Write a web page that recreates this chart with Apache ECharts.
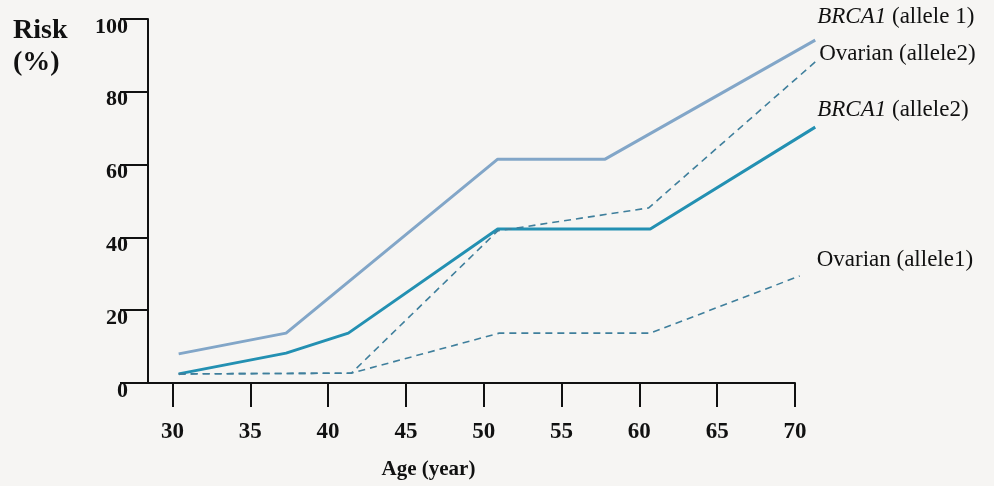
<!DOCTYPE html>
<html>
<head>
<meta charset="utf-8">
<script src="https://cdn.jsdelivr.net/npm/echarts@6/dist/echarts.min.js"></script>
<style>
html,body{margin:0;padding:0;background:#f6f5f3;}
#chart{width:994px;height:486px;}
</style>
</head>
<body>
<div id="chart"></div>
<script>
// ---- data ----
var xTicks = [30, 35, 40, 45, 50, 55, 60, 65, 70];
var yTicks = [0, 20, 40, 60, 80, 100];

var brca1A1Ages = [30.4, 37.3, 50.9, 57.8, 71.3];
var brca1A1Risk = [8.0, 13.7, 61.5, 61.5, 94.2];

var brca1A2Ages = [30.4, 37.3, 41.3, 50.9, 60.7, 71.3];
var brca1A2Risk = [2.5, 8.2, 13.7, 42.3, 42.3, 70.3];

var ovA2Ages = [30.4, 41.5, 50.9, 60.6, 71.3];
var ovA2Risk = [2.5, 2.7, 41.8, 48.1, 88.2];

var ovA1Ages = [30.4, 41.5, 51.0, 60.7, 70.3];
var ovA1Risk = [2.5, 2.7, 13.7, 13.7, 29.4];

function zip(a, b) { return a.map(function (v, i) { return [v, b[i]]; }); }

// ---- layout ----
var W = 994, GL = 148, GR = 199, GT = 19, GB = 103;
var X_MIN = 28.43, X_MAX = 70, X_MAX_DATA = 72;
var pxPerYear = (W - GL - GR) / (X_MAX - X_MIN);
var GR_DATA = W - GL - (X_MAX_DATA - X_MIN) * pxPerYear;

var serif = '"Liberation Serif", "Times New Roman", serif';
var chart = echarts.init(document.getElementById('chart'));

function endLbl(text, off, italicFirst) {
  return {
    show: true,
    formatter: italicFirst ? '{i|BRCA1} ' + text : text,
    distance: 2,
    offset: off,
    align: 'left',
    color: '#111',
    fontFamily: serif,
    fontSize: 23,
    rich: { i: { fontStyle: 'italic', fontFamily: serif, fontSize: 23, color: '#111' } }
  };
}

chart.setOption({
  animation: false,
  backgroundColor: '#f6f5f3',
  title: {
    text: 'Risk\n(%)',
    left: 8, top: 10,
    textStyle: { fontFamily: serif, fontWeight: 'bold', fontSize: 28, color: '#111', lineHeight: 32 }
  },
  grid: [
    { left: GL, right: GR, top: GT, bottom: GB, outerBoundsMode: 'none', containLabel: false },
    { left: GL, right: GR_DATA, top: GT, bottom: GB, outerBoundsMode: 'none', containLabel: false }
  ],
  xAxis: [{
    type: 'value', gridIndex: 0,
    min: X_MIN, max: X_MAX,
    name: 'Age (year)',
    nameLocation: 'middle',
    nameGap: 76,
    nameTextStyle: { fontFamily: serif, fontWeight: 'bold', fontSize: 21, color: '#111', padding: [0, 86, 0, 0] },
    axisLine: { lineStyle: { color: '#111', width: 2 } },
    axisTick: { customValues: xTicks, length: 24, lineStyle: { color: '#111', width: 2 } },
    axisLabel: { customValues: xTicks, margin: 38, fontFamily: serif, fontWeight: 'bold', fontSize: 23, color: '#111' },
    splitLine: { show: false }
  }, {
    type: 'value', gridIndex: 1, min: X_MIN, max: X_MAX_DATA, show: false
  }],
  yAxis: [{
    type: 'value', gridIndex: 0,
    min: 0, max: 100, interval: 20,
    axisLine: { show: true, lineStyle: { color: '#111', width: 2 } },
    axisTick: { show: true, length: 28, lineStyle: { color: '#111', width: 2 } },
    axisLabel: { margin: 20, fontFamily: serif, fontWeight: 'bold', fontSize: 22, color: '#111', verticalAlign: 'top', lineHeight: 16 },
    splitLine: { show: false }
  }, {
    type: 'value', gridIndex: 1, min: 0, max: 100, show: false
  }],
  series: [
    {
      name: 'BRCA1 (allele 1)', type: 'line', xAxisIndex: 1, yAxisIndex: 1, symbol: 'none',
      data: zip(brca1A1Ages, brca1A1Risk),
      lineStyle: { color: '#82a6c8', width: 3 },
      endLabel: endLbl('(allele 1)', [0, -23], true)
    },
    {
      name: 'BRCA1 (allele2)', type: 'line', xAxisIndex: 1, yAxisIndex: 1, symbol: 'none',
      data: zip(brca1A2Ages, brca1A2Risk),
      lineStyle: { color: '#2390b2', width: 3 },
      endLabel: endLbl('(allele2)', [0, -17], true)
    },
    {
      name: 'Ovarian (allele2)', type: 'line', xAxisIndex: 1, yAxisIndex: 1, symbol: 'none',
      data: zip(ovA2Ages, ovA2Risk),
      lineStyle: { color: '#3f7f9c', width: 1.6, type: [7, 5] },
      endLabel: endLbl('Ovarian (allele2)', [2, -8], false)
    },
    {
      name: 'Ovarian (allele1)', type: 'line', xAxisIndex: 1, yAxisIndex: 1, symbol: 'none',
      data: zip(ovA1Ages, ovA1Risk),
      lineStyle: { color: '#3f7f9c', width: 1.6, type: [7, 5] },
      endLabel: endLbl('Ovarian (allele1)', [15, -16], false)
    }
  ]
});
</script>
</body>
</html>
